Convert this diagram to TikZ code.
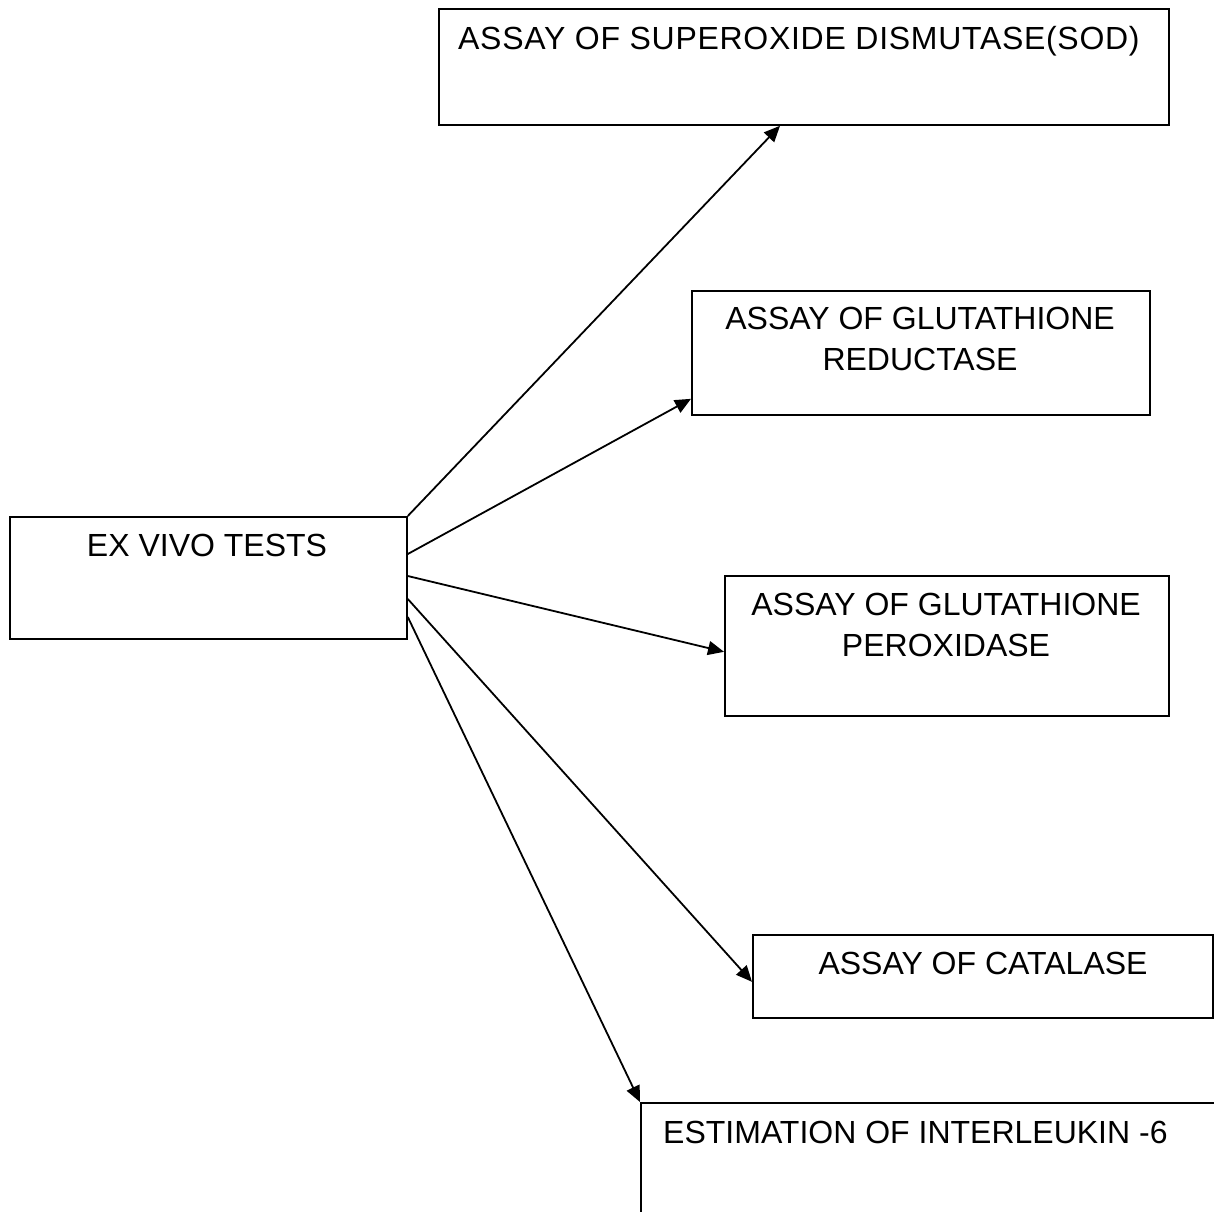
\documentclass[tikz,border=0pt]{standalone}
\usepackage{fontspec}
\setmainfont{Liberation Sans}
\usetikzlibrary{arrows.meta}
\begin{document}
\begin{tikzpicture}[x=1pt,y=-1pt,
  box/.style={draw, line width=1.8pt, anchor=north west, inner sep=0pt},
  lbl/.style={inner sep=0pt, font=\fontsize{32}{41}\selectfont, align=center},
  arr/.style={line width=1.8pt, -{Triangle[length=16pt,width=14pt]}}]
\useasboundingbox (0,0) rectangle (1214,1211);
\clip (0,0) rectangle (1214,1211);
\fill[white] (0,0) rectangle (1214,1211);
% boxes
\node[box, minimum width=397pt, minimum height=122pt] (ex) at (9,516) {};
\node[box, minimum width=730pt, minimum height=116pt] (sod) at (438,8) {};
\node[box, minimum width=458pt, minimum height=124pt] (gr) at (691,290) {};
\node[box, minimum width=444pt, minimum height=140pt] (gpx) at (724,575) {};
\node[box, minimum width=460pt, minimum height=83pt] (cat) at (752,934) {};
\node[box, minimum width=700pt, minimum height=200pt] (il6) at (640,1102) {};
% texts
\node[lbl, anchor=base] (exT) at (207,556) {EX VIVO TESTS};
\node[lbl, anchor=base west] (sodT) at (458,49) {\addfontfeature{LetterSpace=2.2}ASSAY OF SUPEROXIDE DISMUTASE(SOD)};
\node[lbl, anchor=north] (grT) at (920,307) {ASSAY OF GLUTATHIONE\\REDUCTASE};
\node[lbl, anchor=north] (gpxT) at (946,593) {ASSAY OF GLUTATHIONE\\PEROXIDASE};
\node[lbl, anchor=base] (catT) at (983,974) {ASSAY OF CATALASE};
\node[lbl, anchor=base west] (il6T) at (663,1143) {ESTIMATION OF INTERLEUKIN -6};
% connectors
\draw[arr] (ex.north east) -- ([xshift=342pt]sod.south west);
\draw[arr] ([yshift=-38pt]ex.north east) -- ([yshift=17pt]gr.south west);
\draw[arr] ([yshift=-60pt]ex.north east) -- ([yshift=65pt]gpx.south west);
\draw[arr] ([yshift=-83pt]ex.north east) -- ([yshift=37pt]cat.south west);
\draw[arr] ([yshift=-101pt]ex.north east) -- (il6.north west);
\end{tikzpicture}
\end{document}
